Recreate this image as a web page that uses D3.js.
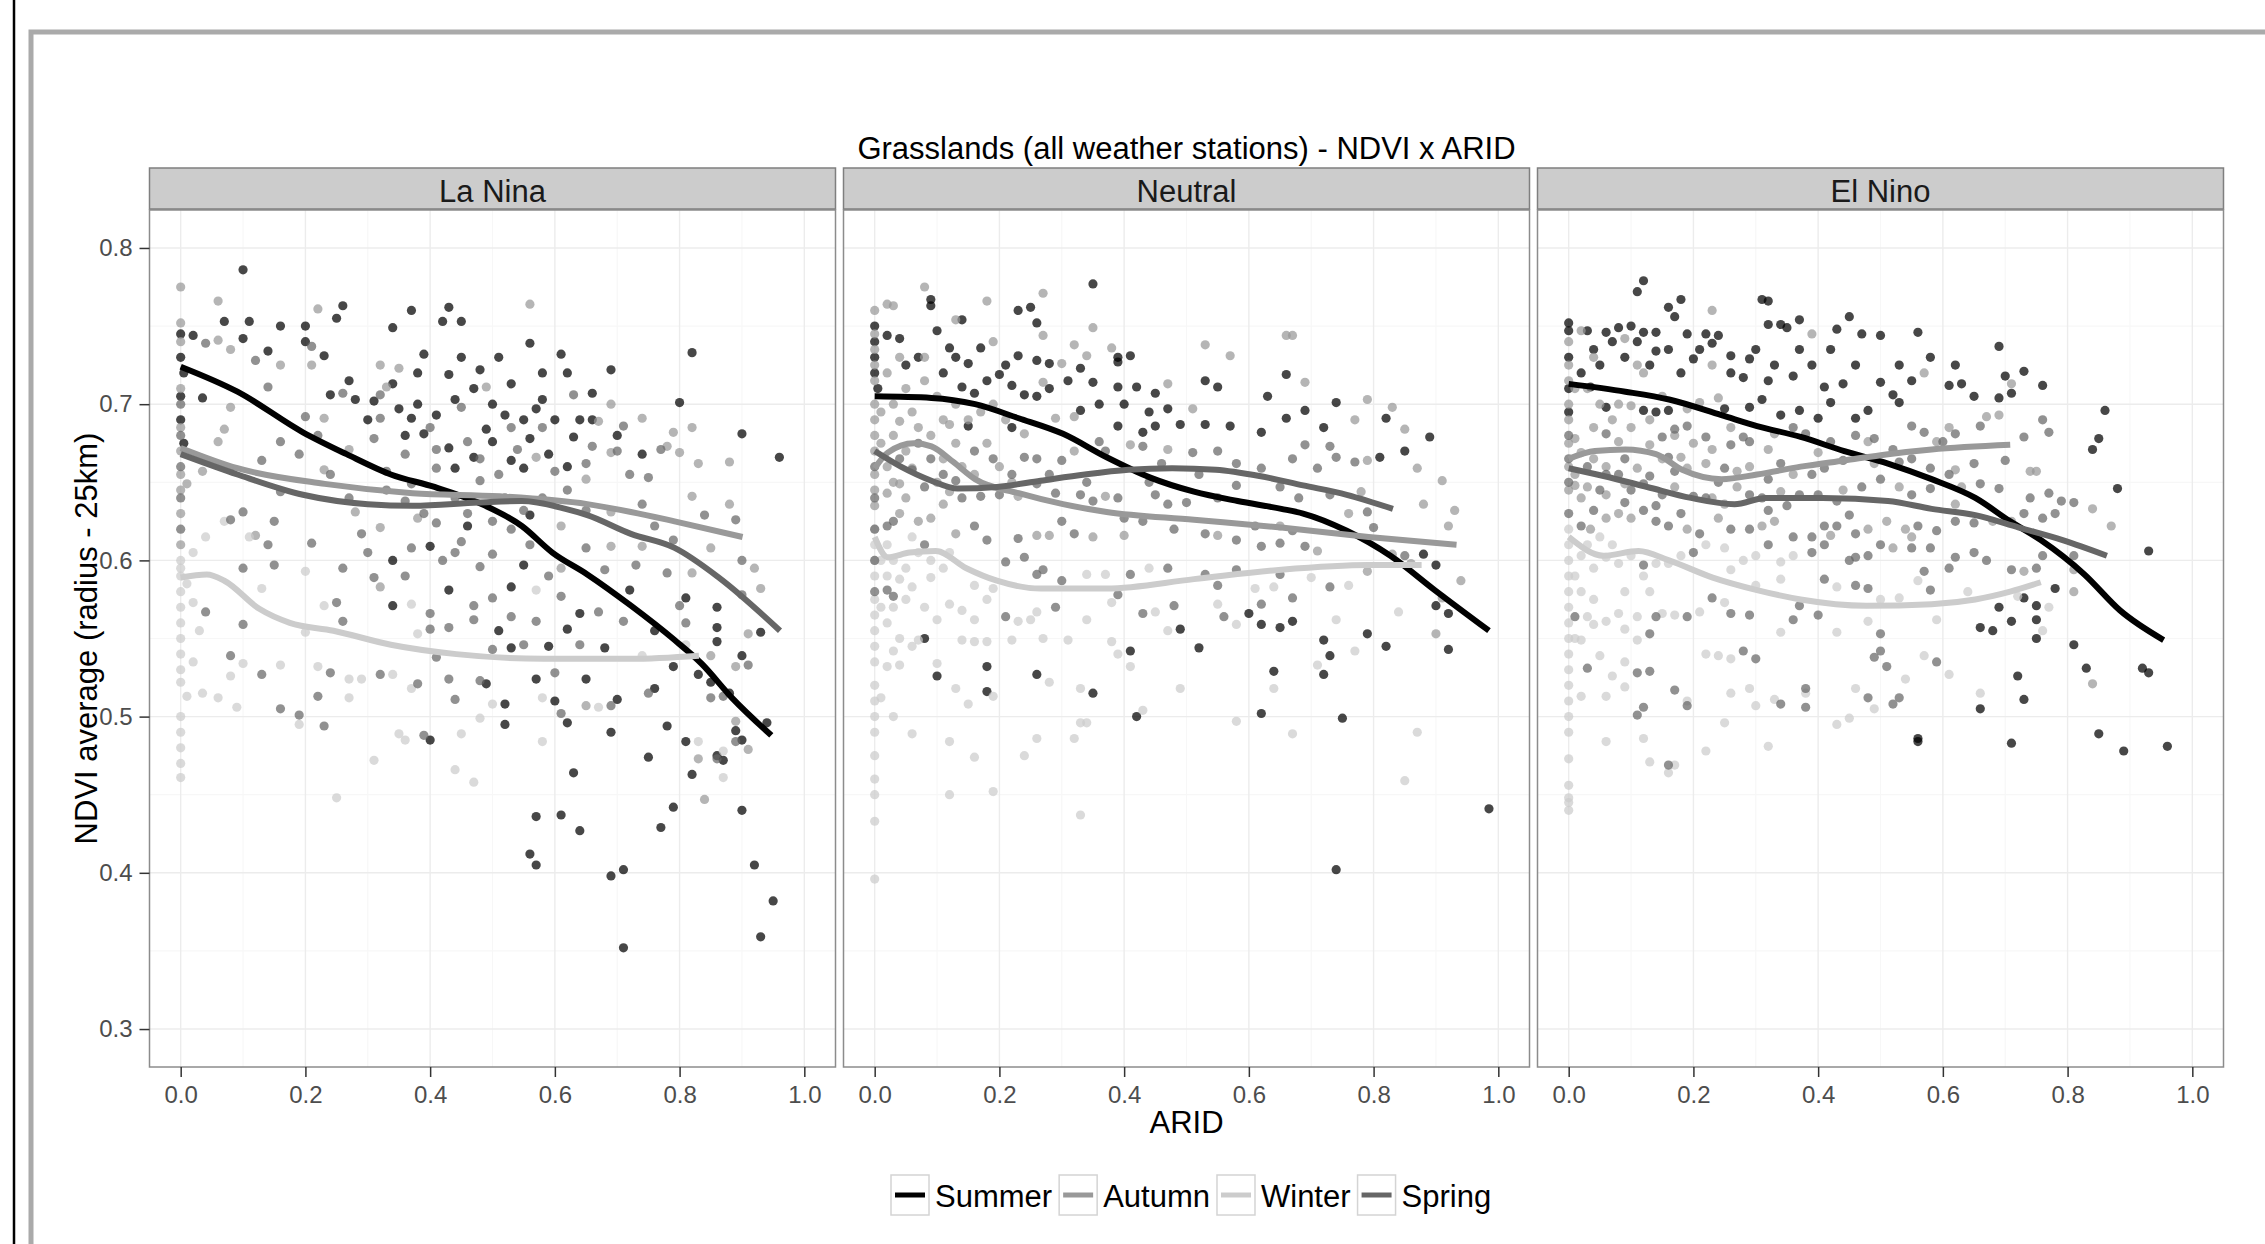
<!DOCTYPE html>
<html>
<head>
<meta charset="utf-8">
<script src="https://cdn.jsdelivr.net/npm/d3@7"></script>
<style>
body { margin: 0; background: #fff; }
svg text { font-family: "Liberation Sans", Arial, sans-serif; }
</style>
</head>
<body>
<svg></svg>
<script>
var w = 2265, h = 1244

var seasons = ["Summer", "Autumn", "Winter", "Spring"]
var seasonColors = ["#000000", "#999999", "#cccccc", "#666666"]
var phases = ["La Nina", "Neutral", "El Nino"]
var xTicks = [0, 0.2, 0.4, 0.6, 0.8, 1.0]
var yTicks = [0.3, 0.4, 0.5, 0.6, 0.7, 0.8]
var xMinor = [0.1, 0.3, 0.5, 0.7, 0.9]
var yMinor = [0.35, 0.45, 0.55, 0.65, 0.75]

// ---- points, [ARID, NDVI] ----
var laNinaSummer = [[0.10,0.786],[0.26,0.763],[0.37,0.760],[0.43,0.762],[0.07,0.753],[0.11,0.753],[0.16,0.750],[0.20,0.750],[0.25,0.755],[0.34,0.749],[0.42,0.753],[0.45,0.753],[0.02,0.744],[0.10,0.742],[0.20,0.740],[0.56,0.739],[0.61,0.732],[0.82,0.733],[0.14,0.734],[0.23,0.731],[0.39,0.732],[0.45,0.730],[0.035,0.704],[0.27,0.715],[0.43,0.719],[0.69,0.722],[0.53,0.713],[0.24,0.706],[0.35,0.697],[0.57,0.697],[0.66,0.707],[0.80,0.701],[0.37,0.691],[0.49,0.684],[0.90,0.681],[0.39,0.681],[0.63,0.679],[0.96,0.666],[0.44,0.659],[0.55,0.659],[0.56,0.629],[0.46,0.622],[0.55,0.597],[0.40,0.609],[0.34,0.600],[0.81,0.576],[0.86,0.570],[0.72,0.581],[0.64,0.566],[0.53,0.583],[0.43,0.581],[0.34,0.571],[0.86,0.557],[0.93,0.554],[0.76,0.555],[0.62,0.556],[0.51,0.555],[0.86,0.548],[0.90,0.539],[0.68,0.544],[0.59,0.545],[0.53,0.544],[0.79,0.532],[0.83,0.527],[0.65,0.524],[0.57,0.524],[0.49,0.521],[0.85,0.522],[0.88,0.515],[0.76,0.518],[0.70,0.511],[0.60,0.510],[0.52,0.508],[0.94,0.496],[0.89,0.491],[0.90,0.485],[0.86,0.475],[0.87,0.472],[0.81,0.484],[0.78,0.494],[0.69,0.490],[0.62,0.496],[0.52,0.495],[0.40,0.485],[0.75,0.474],[0.82,0.463],[0.63,0.464],[0.79,0.442],[0.90,0.440],[0.61,0.437],[0.57,0.436],[0.64,0.427],[0.77,0.429],[0.56,0.412],[0.57,0.405],[0.71,0.402],[0.69,0.398],[0.92,0.405],[0.95,0.382],[0.93,0.359],[0.71,0.352],[0,0.745],[0,0.73],[0.005,0.72],[0,0.705],[0,0.69],[0.005,0.675],
    [0.31,0.702],[0.34,0.713],[0.38,0.700],[0.41,0.693],[0.44,0.703],[0.47,0.710],[0.50,0.700],[0.52,0.693],[0.55,0.690],[0.58,0.703],[0.60,0.690],[0.36,0.680],[0.43,0.672],[0.47,0.666],[0.50,0.676],[0.53,0.664],[0.56,0.678],[0.59,0.668],[0.62,0.660],[0.64,0.690],[0.30,0.690],[0.28,0.703],[0.38,0.720],[0.48,0.722],[0.51,0.730],[0.58,0.720],[0.62,0.720],[0.66,0.690],[0.70,0.680],[0.74,0.668]]
var laNinaAutumn = [[0.0,0.775],[0.06,0.766],[0.22,0.761],[0.56,0.764],[0.06,0.741],[0.08,0.735],[0.16,0.725],[0.21,0.725],[0.32,0.725],[0.35,0.723],[0.49,0.711],[0.33,0.711],[0.08,0.698],[0.69,0.700],[0.82,0.685],[0.74,0.691],[0.23,0.691],[0.67,0.689],[0.79,0.682],[0.27,0.671],[0.57,0.666],[0.69,0.669],[0.78,0.673],[0.80,0.669],[0.88,0.663],[0.83,0.662],[0.06,0.676],[0.07,0.684],[0.01,0.649],[0.035,0.657],[0.23,0.658],[0.65,0.652],[0.82,0.641],[0.88,0.636],[0.69,0.631],[0.61,0.622],[0.38,0.627],[0.32,0.621],[0.28,0.631],[0.12,0.616],[0.69,0.609],[0.74,0.609],[0.85,0.608],[0.92,0.595],[0.82,0.592],[0.61,0.595],[0.93,0.582],[0.32,0.583],[0.91,0.553],[0.85,0.539],[0.89,0.532],[0.65,0.507],[0.89,0.497],[0.91,0.479],[0.83,0.473],[0.84,0.447],[0,0.752],[0,0.74],[0,0.71],[0,0.685],[0,0.67],[0,0.655],[0,0.645],[0,0.63],[0,0.61]]
var laNinaWinter = [[0.07,0.625],[0.04,0.615],[0.11,0.615],[0.20,0.593],[0.02,0.605],[0.57,0.581],[0.37,0.572],[0.23,0.571],[0.13,0.582],[0.02,0.573],[0.38,0.553],[0.20,0.554],[0.03,0.555],[0.81,0.546],[0.74,0.539],[0.10,0.534],[0.02,0.535],[0.34,0.527],[0.29,0.524],[0.27,0.524],[0.22,0.532],[0.16,0.533],[0.08,0.526],[0.0,0.522],[0.67,0.506],[0.58,0.512],[0.50,0.508],[0.37,0.518],[0.27,0.512],[0.09,0.506],[0.06,0.512],[0.035,0.515],[0.01,0.513],[0.87,0.478],[0.83,0.484],[0.58,0.484],[0.48,0.499],[0.45,0.489],[0.36,0.485],[0.35,0.489],[0.19,0.495],[0.0,0.500],[0.87,0.461],[0.44,0.466],[0.47,0.458],[0.31,0.472],[0.0,0.461],[0.25,0.448],[0,0.60],[0,0.59],[0,0.58],[0,0.57],[0,0.56],[0,0.55],[0,0.54],[0,0.53],[0,0.49],[0,0.48],[0,0.47],[0,0.595],[0.01,0.585]]
var laNinaSpring = [[0.20,0.692],[0.16,0.676],[0.46,0.676],[0.33,0.657],[0.65,0.662],[0.75,0.653],[0.89,0.626],[0.76,0.622],[0.29,0.617],[0.21,0.611],[0.79,0.613],[0.90,0.600],[0.78,0.592],[0.68,0.594],[0.26,0.595],[0.25,0.573],[0.40,0.556],[0.26,0.561],[0.41,0.538],[0.43,0.524],[0.32,0.527],[0.24,0.528],[0.44,0.511],[0.22,0.513],[0.16,0.505],[0.23,0.494],[0.71,0.686],[0.04,0.739],[0.21,0.737],[0.12,0.728],[0.14,0.711],[0.26,0.707],[0.32,0.706],[0.45,0.698],[0.63,0.706],[0.32,0.691],[0.40,0.685],[0.53,0.685],[0.58,0.685],[0.31,0.678],[0.36,0.668],[0.41,0.671],[0.48,0.665],[0.54,0.671],[0.66,0.673],[0.70,0.670],[0.77,0.671],[0.13,0.664],[0.16,0.644],[0.37,0.649],[0.41,0.659],[0.48,0.651],[0.51,0.655],[0.60,0.657],[0.72,0.655],[0.84,0.629],[0.74,0.636],[0.65,0.632],[0.53,0.620],[0.50,0.625],[0.41,0.624],[0.15,0.625],[0.10,0.631],[0.08,0.626],[0.14,0.610],[0.65,0.608],[0.73,0.597],[0.48,0.596],[0.44,0.605],[0.37,0.608],[0.31,0.589],[0.15,0.597],[0.10,0.595],[0.80,0.571],[0.90,0.578],[0.67,0.567],[0.61,0.577],[0.50,0.576],[0.47,0.571],[0.40,0.566],[0.04,0.567],[0.81,0.560],[0.71,0.561],[0.57,0.561],[0.53,0.564],[0.47,0.562],[0.43,0.557],[0.10,0.559],[0.91,0.533],[0.64,0.546],[0.55,0.546],[0.50,0.543],[0.08,0.539],[0.60,0.528],[0.48,0.523],[0.38,0.521],[0.13,0.527],[0.85,0.512],[0.87,0.513],[0.75,0.515],[0.69,0.507],[0.19,0.501],[0.89,0.484],[0.86,0.473],[0.61,0.502],[0.39,0.488],[0,0.70],[0,0.68],[0,0.66],[0,0.64],[0,0.62],
    [0.33,0.645],[0.36,0.638],[0.39,0.630],[0.44,0.640],[0.46,0.630],[0.52,0.640],[0.55,0.632],[0.58,0.640],[0.62,0.645],[0.45,0.612],[0.50,0.604],[0.56,0.610],[0.59,0.590],[0.42,0.600],[0.36,0.590],[0.30,0.605],[0.27,0.640],[0.24,0.655],[0.19,0.668],[0.22,0.680]]

var neutralSummer = [[0.35,0.777],[0.09,0.767],[0.09,0.763],[0.23,0.760],[0.25,0.762],[0.26,0.752],[0.14,0.754],[0.10,0.747],[0.02,0.744],[0.04,0.742],[0,0.740],[0.17,0.736],[0.12,0.736],[0.39,0.730],[0.41,0.731],[0.39,0.727],[0.23,0.731],[0.21,0.725],[0.26,0.728],[0.28,0.726],[0.15,0.726],[0.33,0.723],[0.66,0.719],[0.53,0.715],[0.55,0.711],[0.39,0.711],[0.42,0.711],[0.20,0.719],[0.22,0.712],[0.24,0.706],[0.26,0.705],[0.35,0.714],[0.14,0.711],[0.16,0.707],[0.45,0.707],[0.63,0.705],[0.74,0.701],[0.82,0.691],[0.69,0.696],[0.72,0.685],[0.66,0.691],[0.62,0.682],[0.57,0.686],[0.53,0.687],[0.49,0.687],[0.47,0.697],[0.45,0.686],[0.43,0.682],[0.39,0.686],[0.33,0.696],[0.22,0.685],[0.15,0.686],[0.89,0.679],[0.85,0.670],[0.81,0.666],[0.88,0.604],[0.90,0.597],[0.90,0.571],[0.92,0.566],[0.79,0.553],[0.82,0.545],[0.92,0.543],[0.72,0.549],[0.73,0.539],[0.64,0.529],[0.72,0.527],[0.62,0.502],[0.75,0.499],[0.985,0.441],[0.74,0.402],[0.67,0.561],[0.65,0.557],[0.62,0.559],[0.60,0.566],[0.52,0.544],[0.49,0.556],[0.41,0.542],[0.35,0.515],[0.26,0.527],[0.18,0.532],[0.10,0.526],[0.18,0.516],[0.42,0.500],[0.08,0.550],[0,0.75],[0,0.73],[0,0.72],[0.005,0.71],
    [0.05,0.725],[0.07,0.730],[0.11,0.720],[0.13,0.730],[0.18,0.715],[0.28,0.710],[0.31,0.715],[0.36,0.700],[0.40,0.700],[0.44,0.695]]
var neutralAutumn = [[0.08,0.775],[0.27,0.771],[0.02,0.764],[0.03,0.763],[0.18,0.766],[0.13,0.754],[0.35,0.749],[0.66,0.744],[0.67,0.744],[0.27,0.744],[0.19,0.740],[0.32,0.738],[0.53,0.738],[0.38,0.736],[0.57,0.731],[0.34,0.731],[0.30,0.726],[0.08,0.730],[0.04,0.730],[0.69,0.714],[0.27,0.714],[0.47,0.713],[0.79,0.703],[0.83,0.698],[0.77,0.690],[0.51,0.697],[0.32,0.692],[0.29,0.691],[0.24,0.681],[0.12,0.687],[0.07,0.685],[0.04,0.689],[0.85,0.684],[0.79,0.664],[0.47,0.671],[0.41,0.674],[0.32,0.670],[0.13,0.675],[0.06,0.659],[0.87,0.659],[0.91,0.651],[0.88,0.636],[0.93,0.632],[0.92,0.622],[0.78,0.644],[0.76,0.630],[0.37,0.641],[0.23,0.641],[0.12,0.644],[0.04,0.649],[0.02,0.643],[0.04,0.630],[0.07,0.625],[0.09,0.627],[0.11,0.636],[0.13,0.617],[0.26,0.616],[0.28,0.616],[0.35,0.615],[0.40,0.616],[0.55,0.616],[0.71,0.606],[0.65,0.622],[0.83,0.604],[0.94,0.587],[0.86,0.598],[0.79,0.593],[0.91,0.576],[0.90,0.553],[0,0.76],[0,0.745],[0,0.735],[0,0.725],[0,0.715],[0,0.70],[0,0.69],[0,0.68],[0,0.67],[0,0.655],[0,0.645],[0,0.635],[0.01,0.695],[0.01,0.675],
    [0.02,0.720],[0.03,0.700],[0.05,0.710],[0.06,0.695],[0.08,0.715],[0.10,0.705],[0.11,0.690],[0.13,0.700],[0.15,0.690],[0.17,0.695],[0.19,0.700],[0.21,0.690],[0.03,0.680],[0.05,0.670],[0.09,0.680],[0.11,0.665],[0.14,0.660],[0.18,0.675],[0.02,0.660],[0.03,0.650],[0.05,0.640],[0.10,0.650],[0.16,0.655],[0.20,0.660],[0.22,0.650]]
var neutralWinter = [[0.76,0.584],[0.70,0.589],[0.64,0.583],[0.61,0.582],[0.44,0.595],[0.37,0.591],[0.34,0.591],[0.19,0.582],[0.16,0.584],[0.12,0.605],[0.06,0.615],[0.04,0.588],[0.06,0.583],[0.09,0.589],[0.84,0.567],[0.74,0.562],[0.58,0.559],[0.55,0.572],[0.47,0.555],[0.45,0.567],[0.38,0.573],[0.34,0.562],[0.26,0.567],[0.25,0.562],[0.23,0.561],[0.18,0.575],[0.16,0.562],[0.14,0.568],[0.12,0.572],[0.10,0.562],[0.71,0.533],[0.77,0.542],[0.39,0.540],[0.38,0.548],[0.31,0.549],[0.27,0.550],[0.22,0.549],[0.18,0.548],[0.16,0.548],[0.14,0.549],[0.07,0.549],[0.03,0.542],[0.02,0.532],[0.04,0.533],[0.10,0.534],[0.64,0.518],[0.49,0.518],[0.41,0.532],[0.33,0.518],[0.28,0.522],[0.13,0.518],[0.19,0.513],[0.15,0.508],[0.01,0.512],[0.03,0.500],[0.06,0.489],[0.87,0.490],[0.67,0.489],[0.58,0.497],[0.43,0.504],[0.34,0.496],[0.33,0.496],[0.32,0.486],[0.26,0.486],[0.24,0.475],[0.16,0.474],[0.19,0.452],[0.12,0.450],[0.12,0.484],[0.85,0.459],[0.33,0.437],[0,0.433],[0,0.396],[0,0.62],[0,0.61],[0,0.60],[0,0.59],[0,0.575],[0,0.565],[0,0.555],[0,0.545],[0,0.535],[0,0.52],[0,0.51],[0,0.50],[0,0.49],[0,0.475],[0,0.46],[0,0.45],[0.01,0.60],[0.01,0.57],
    [0.02,0.610],[0.03,0.600],[0.05,0.595],[0.07,0.605],[0.09,0.600],[0.11,0.595],[0.02,0.590],[0.03,0.570],[0.05,0.575],[0.08,0.570],[0.02,0.560],[0.04,0.550],[0.06,0.545]]
var neutralSpring = [[0.30,0.664],[0.77,0.663],[0.74,0.666],[0.73,0.673],[0.71,0.659],[0.69,0.674],[0.67,0.665],[0.62,0.659],[0.58,0.662],[0.55,0.670],[0.51,0.669],[0.46,0.662],[0.43,0.673],[0.37,0.670],[0.36,0.676],[0.26,0.665],[0.24,0.666],[0.19,0.665],[0.16,0.670],[0.09,0.665],[0.79,0.631],[0.80,0.621],[0.73,0.642],[0.68,0.640],[0.65,0.647],[0.58,0.648],[0.55,0.640],[0.50,0.637],[0.47,0.636],[0.45,0.642],[0.40,0.627],[0.35,0.638],[0.33,0.642],[0.29,0.643],[0.26,0.649],[0.20,0.642],[0.17,0.641],[0.13,0.651],[0.08,0.647],[0.06,0.658],[0.02,0.622],[0.03,0.625],[0.16,0.622],[0.18,0.613],[0.23,0.614],[0.30,0.625],[0.32,0.617],[0.43,0.625],[0.48,0.620],[0.53,0.617],[0.58,0.613],[0.61,0.622],[0.62,0.609],[0.65,0.611],[0.67,0.619],[0.69,0.609],[0.85,0.603],[0.73,0.583],[0.65,0.591],[0.58,0.594],[0.55,0.584],[0.53,0.591],[0.47,0.595],[0.41,0.591],[0.30,0.587],[0.27,0.594],[0.26,0.591],[0.24,0.602],[0.21,0.599],[0.08,0.610],[0.02,0.581],[0.03,0.577],[0.67,0.576],[0.62,0.572],[0.56,0.564],[0.48,0.571],[0.43,0.566],[0.39,0.578],[0.29,0.570],[0.21,0.564],[0,0.66],[0,0.64],[0,0.62],[0,0.60],[0,0.58],
    [0.04,0.665],[0.07,0.675],[0.11,0.655],[0.14,0.640],[0.22,0.655],[0.28,0.655],[0.34,0.650],[0.39,0.640],[0.44,0.650],[0.52,0.655]]

var elNinoSummer = [[0.12,0.779],[0.11,0.772],[0.16,0.762],[0.17,0.756],[0.18,0.767],[0.31,0.767],[0.32,0.766],[0.45,0.756],[0.0,0.752],[0.0,0.747],[0.03,0.747],[0.06,0.746],[0.08,0.749],[0.10,0.750],[0.12,0.746],[0.14,0.746],[0.07,0.740],[0.11,0.740],[0.22,0.745],[0.19,0.745],[0.24,0.744],[0.23,0.739],[0.32,0.751],[0.34,0.751],[0.35,0.749],[0.37,0.754],[0.43,0.748],[0.47,0.745],[0.50,0.744],[0.56,0.746],[0.69,0.737],[0.37,0.735],[0.73,0.721],[0.70,0.718],[0.76,0.712],[0.71,0.707],[0.61,0.712],[0.63,0.713],[0.65,0.705],[0.69,0.704],[0.55,0.715],[0.50,0.714],[0.52,0.706],[0.53,0.701],[0.48,0.696],[0.46,0.691],[0.44,0.713],[0.41,0.711],[0.36,0.718],[0.32,0.715],[0.31,0.703],[0.28,0.717],[0.26,0.731],[0.29,0.729],[0.20,0.729],[0.18,0.720],[0.14,0.734],[0.02,0.720],[0.0,0.730],[0.035,0.711],[0.06,0.698],[0.12,0.696],[0.14,0.695],[0.16,0.696],[0.25,0.697],[0.29,0.698],[0.34,0.693],[0.37,0.696],[0.40,0.691],[0.42,0.701],[0.86,0.696],[0.85,0.678],[0.84,0.671],[0.88,0.646],[0.93,0.606],[0.92,0.531],[0.93,0.528],[0.83,0.531],[0.85,0.489],[0.89,0.478],[0.96,0.481],[0.81,0.546],[0.78,0.582],[0.73,0.576],[0.75,0.571],[0.69,0.570],[0.66,0.557],[0.68,0.555],[0.71,0.561],[0.75,0.562],[0.75,0.550],[0.72,0.526],[0.73,0.511],[0.71,0.483],[0.66,0.505],[0.56,0.486],[0.56,0.484],[0,0.71],[0,0.695],
    [0.04,0.735],[0.05,0.725],[0.09,0.730],[0.13,0.725],[0.16,0.735],[0.21,0.735],[0.26,0.720],[0.30,0.735],[0.33,0.725],[0.39,0.725],[0.42,0.735],[0.46,0.725],[0.53,0.725],[0.58,0.730],[0.62,0.725]]
var elNinoAutumn = [[0.23,0.760],[0.02,0.747],[0.09,0.742],[0.39,0.745],[0.57,0.720],[0.71,0.713],[0.69,0.693],[0.67,0.692],[0.11,0.725],[0.12,0.720],[0.04,0.730],[0.23,0.725],[0.24,0.704],[0.08,0.700],[0.10,0.699],[0.19,0.697],[0.21,0.701],[0.33,0.681],[0.23,0.671],[0.13,0.674],[0.08,0.676],[0.04,0.685],[0.01,0.678],[0.02,0.669],[0.18,0.666],[0.32,0.671],[0.40,0.669],[0.48,0.676],[0.59,0.676],[0.61,0.685],[0.74,0.657],[0.75,0.657],[0.62,0.658],[0.49,0.662],[0.27,0.657],[0.22,0.662],[0.19,0.659],[0.11,0.659],[0.09,0.649],[0.03,0.647],[0.01,0.648],[0.63,0.647],[0.62,0.636],[0.53,0.647],[0.34,0.644],[0.27,0.647],[0.25,0.636],[0.23,0.640],[0.17,0.647],[0.06,0.642],[0.02,0.640],[0.84,0.633],[0.87,0.622],[0.71,0.625],[0.68,0.625],[0.54,0.620],[0.51,0.625],[0.48,0.620],[0.33,0.625],[0.31,0.622],[0.24,0.627],[0.19,0.620],[0.10,0.627],[0.08,0.630],[0.06,0.627],[0.035,0.620],[0.55,0.615],[0.52,0.608],[0.42,0.616],[0.81,0.594],[0.73,0.593],[0.81,0.580],[0.84,0.521],[0,0.74],[0,0.725],[0,0.715],[0,0.70],[0,0.69],[0,0.675],[0,0.66],[0,0.645],[0.01,0.71],[0.01,0.655],
    [0.03,0.710],[0.05,0.700],[0.07,0.690],[0.10,0.685],[0.13,0.690],[0.15,0.705],[0.17,0.680],[0.20,0.675],[0.26,0.685],[0.29,0.660],[0.36,0.655],[0.44,0.645],[0.04,0.665],[0.06,0.660],[0.15,0.665]]
var elNinoWinter = [[0.36,0.603],[0.34,0.599],[0.30,0.603],[0.28,0.600],[0.26,0.594],[0.25,0.608],[0.22,0.610],[0.18,0.603],[0.16,0.598],[0.14,0.598],[0.10,0.603],[0.08,0.598],[0.06,0.602],[0.04,0.595],[0.02,0.603],[0.72,0.577],[0.77,0.570],[0.64,0.580],[0.56,0.587],[0.53,0.576],[0.50,0.575],[0.43,0.583],[0.34,0.588],[0.30,0.584],[0.25,0.573],[0.21,0.567],[0.17,0.565],[0.15,0.566],[0.11,0.564],[0.09,0.556],[0.08,0.566],[0.06,0.561],[0.04,0.559],[0.03,0.564],[0.76,0.555],[0.59,0.562],[0.48,0.561],[0.43,0.554],[0.34,0.554],[0.26,0.537],[0.24,0.539],[0.22,0.540],[0.11,0.549],[0.09,0.535],[0.05,0.539],[0.02,0.549],[0.61,0.527],[0.57,0.539],[0.54,0.524],[0.46,0.518],[0.66,0.515],[0.38,0.515],[0.33,0.511],[0.30,0.507],[0.29,0.518],[0.26,0.515],[0.19,0.510],[0.09,0.519],[0.07,0.526],[0.06,0.513],[0.02,0.513],[0.43,0.495],[0.45,0.499],[0.49,0.505],[0.25,0.496],[0.32,0.481],[0.22,0.478],[0.12,0.486],[0.06,0.484],[0.13,0.471],[0.16,0.464],[0.17,0.469],[0,0.473],[0,0.456],[0,0.448],[0,0.445],[0,0.440],[0,0.62],[0,0.61],[0,0.60],[0,0.59],[0,0.58],[0,0.57],[0,0.56],[0,0.55],[0,0.54],[0,0.53],[0,0.52],[0,0.51],[0,0.50],[0,0.49],[0.01,0.59],[0.01,0.55],
    [0.03,0.610],[0.05,0.615],[0.07,0.610],[0.09,0.580],[0.12,0.590],[0.13,0.580],[0.02,0.580],[0.04,0.575]]
var elNinoSpring = [[0.36,0.685],[0.38,0.681],[0.28,0.679],[0.26,0.674],[0.22,0.679],[0.19,0.686],[0.17,0.684],[0.15,0.679],[0.06,0.681],[0.09,0.665],[0.16,0.666],[0.29,0.676],[0.42,0.676],[0.46,0.680],[0.49,0.678],[0.52,0.671],[0.55,0.686],[0.57,0.682],[0.60,0.676],[0.62,0.681],[0.66,0.686],[0.70,0.664],[0.73,0.679],[0.76,0.690],[0.77,0.682],[0.65,0.662],[0.61,0.655],[0.58,0.659],[0.55,0.665],[0.53,0.663],[0.44,0.664],[0.41,0.659],[0.39,0.655],[0.34,0.662],[0.32,0.652],[0.25,0.659],[0.17,0.657],[0.13,0.654],[0.06,0.655],[0.81,0.637],[0.79,0.638],[0.77,0.643],[0.74,0.640],[0.69,0.646],[0.66,0.649],[0.58,0.646],[0.55,0.642],[0.50,0.652],[0.47,0.647],[0.45,0.629],[0.43,0.638],[0.40,0.642],[0.37,0.642],[0.32,0.632],[0.29,0.642],[0.20,0.641],[0.15,0.642],[0.12,0.649],[0.09,0.637],[0.04,0.632],[0.78,0.630],[0.76,0.627],[0.73,0.630],[0.65,0.624],[0.62,0.625],[0.59,0.619],[0.56,0.622],[0.46,0.617],[0.43,0.622],[0.41,0.622],[0.39,0.615],[0.36,0.615],[0.29,0.620],[0.26,0.620],[0.21,0.617],[0.16,0.622],[0.14,0.625],[0.12,0.632],[0.02,0.622],[0.81,0.603],[0.75,0.595],[0.76,0.603],[0.71,0.594],[0.65,0.605],[0.67,0.600],[0.62,0.602],[0.61,0.595],[0.58,0.608],[0.57,0.593],[0.55,0.608],[0.50,0.610],[0.48,0.603],[0.46,0.602],[0.45,0.600],[0.41,0.610],[0.39,0.605],[0.32,0.610],[0.20,0.605],[0.12,0.597],[0.58,0.581],[0.48,0.582],[0.46,0.584],[0.41,0.588],[0.40,0.565],[0.37,0.571],[0.36,0.562],[0.29,0.565],[0.26,0.566],[0.23,0.576],[0.19,0.564],[0.14,0.564],[0.01,0.564],[0.50,0.553],[0.50,0.542],[0.49,0.538],[0.30,0.537],[0.28,0.542],[0.13,0.553],[0.03,0.531],[0.59,0.535],[0.51,0.532],[0.48,0.512],[0.53,0.512],[0.52,0.508],[0.38,0.518],[0.38,0.506],[0.34,0.508],[0.17,0.517],[0.19,0.507],[0.13,0.529],[0.11,0.528],[0.12,0.506],[0.11,0.501],[0.16,0.469],[0,0.68],[0,0.665],[0,0.65],[0,0.63],
    [0.03,0.660],[0.05,0.645],[0.08,0.655],[0.10,0.645],[0.14,0.635],[0.18,0.630],[0.22,0.640],[0.24,0.650],[0.31,0.640],[0.35,0.635]]

// ---- smoothed fits ----
var laNinaSummerFit = [[0,0.724],[0.091,0.708],[0.196,0.682],[0.266,0.668],[0.337,0.655],[0.407,0.647],[0.477,0.637],[0.547,0.622],[0.596,0.605],[0.652,0.591],[0.722,0.571],[0.792,0.549],[0.835,0.534],[0.884,0.512],[0.947,0.488]]
var laNinaAutumnFit = [[0,0.672],[0.091,0.659],[0.231,0.649],[0.372,0.643],[0.512,0.641],[0.652,0.636],[0.722,0.631],[0.792,0.625],[0.901,0.615]]
var laNinaWinterFit = [[0,0.589],[0.042,0.591],[0.07,0.587],[0.126,0.569],[0.175,0.560],[0.245,0.555],[0.337,0.546],[0.442,0.540],[0.582,0.537],[0.722,0.537],[0.831,0.539]]
var laNinaSpringFit = [[0,0.668],[0.091,0.655],[0.196,0.642],[0.30,0.636],[0.372,0.635],[0.477,0.637],[0.547,0.638],[0.617,0.633],[0.652,0.629],[0.722,0.617],[0.792,0.608],[0.863,0.589],[0.961,0.555]]

var neutralSummerFit = [[0,0.705],[0.091,0.704],[0.161,0.700],[0.231,0.691],[0.302,0.681],[0.372,0.666],[0.442,0.653],[0.512,0.644],[0.582,0.638],[0.652,0.633],[0.687,0.630],[0.757,0.619],[0.827,0.603],[0.898,0.581],[0.985,0.555]]
var neutralAutumnFit = [[0,0.659],[0.021,0.669],[0.063,0.675],[0.091,0.673],[0.126,0.663],[0.161,0.652],[0.231,0.643],[0.302,0.636],[0.372,0.631],[0.512,0.626],[0.652,0.621],[0.792,0.615],[0.933,0.610]]
var neutralWinterFit = [[0,0.615],[0.021,0.602],[0.056,0.605],[0.098,0.606],[0.147,0.595],[0.196,0.587],[0.266,0.582],[0.372,0.582],[0.512,0.588],[0.652,0.594],[0.792,0.597],[0.877,0.597]]
var neutralSpringFit = [[0,0.670],[0.042,0.660],[0.091,0.651],[0.133,0.646],[0.196,0.647],[0.266,0.651],[0.337,0.655],[0.407,0.658],[0.477,0.659],[0.547,0.658],[0.617,0.654],[0.687,0.648],[0.757,0.642],[0.831,0.633]]

var elNinoSummerFit = [[0,0.713],[0.091,0.708],[0.161,0.703],[0.245,0.693],[0.302,0.686],[0.372,0.679],[0.442,0.670],[0.512,0.662],[0.582,0.652],[0.652,0.640],[0.708,0.625],[0.757,0.613],[0.827,0.591],[0.884,0.568],[0.954,0.549]]
var elNinoAutumnFit = [[0,0.665],[0.042,0.670],[0.091,0.671],[0.140,0.668],[0.182,0.658],[0.245,0.652],[0.302,0.655],[0.372,0.660],[0.442,0.664],[0.512,0.668],[0.582,0.671],[0.708,0.674]]
var elNinoWinterFit = [[0,0.615],[0.056,0.603],[0.112,0.606],[0.161,0.600],[0.231,0.589],[0.302,0.581],[0.372,0.575],[0.477,0.571],[0.582,0.572],[0.652,0.575],[0.708,0.580],[0.757,0.586]]
var elNinoSpringFit = [[0,0.659],[0.056,0.654],[0.126,0.647],[0.196,0.640],[0.266,0.636],[0.316,0.640],[0.407,0.640],[0.512,0.638],[0.582,0.633],[0.652,0.629],[0.722,0.621],[0.792,0.613],[0.863,0.603]]

var panels = [
    { name: phases[0], points: [laNinaSummer, laNinaAutumn, laNinaWinter, laNinaSpring],
      fits: [laNinaSummerFit, laNinaAutumnFit, laNinaWinterFit, laNinaSpringFit] },
    { name: phases[1], points: [neutralSummer, neutralAutumn, neutralWinter, neutralSpring],
      fits: [neutralSummerFit, neutralAutumnFit, neutralWinterFit, neutralSpringFit] },
    { name: phases[2], points: [elNinoSummer, elNinoAutumn, elNinoWinter, elNinoSpring],
      fits: [elNinoSummerFit, elNinoAutumnFit, elNinoWinterFit, elNinoSpringFit] }
]

// ---- layout ----
var panelLeft = 149.5, panelW = 686, panelGap = 8
var panelTop = 210, panelH = 857
var stripTop = 168, stripH = 41

var svg = d3.select("svg")
    .attr("width", w)
    .attr("height", h)

svg.append("rect")
    .attr("width", w)
    .attr("height", h)
    .attr("fill", "#fff")

// page frame
svg.append("line")
    .attr("x1", 14).attr("x2", 14)
    .attr("y1", 0).attr("y2", h)
    .attr("stroke", "#000")
    .attr("stroke-width", 2.5)
svg.append("path")
    .attr("d", "M31," + h + "V32H" + w)
    .attr("fill", "none")
    .attr("stroke", "#aaaaaa")
    .attr("stroke-width", 5)

var x = d3.scaleLinear().domain([-0.05, 1.05]).range([0, panelW])
var y = d3.scaleLinear().domain([0.2757, 0.8243]).range([panelH, 0])

var line = d3.line()
    .x(function(d) { return x(d[0]) })
    .y(function(d) { return y(d[1]) })
    .curve(d3.curveMonotoneX)

panels.forEach(function(p, i) {
    var px = panelLeft + i * (panelW + panelGap)
    var g = svg.append("g")
        .attr("transform", "translate(" + px + "," + panelTop + ")")

    // grid
    g.selectAll(".xminor").data(xMinor).enter().append("line")
        .attr("x1", x).attr("x2", x)
        .attr("y1", 0).attr("y2", panelH)
        .attr("stroke", "#f7f7f7").attr("stroke-width", 1.2)
    g.selectAll(".yminor").data(yMinor).enter().append("line")
        .attr("x1", 0).attr("x2", panelW)
        .attr("y1", y).attr("y2", y)
        .attr("stroke", "#f7f7f7").attr("stroke-width", 1.2)
    g.selectAll(".xmajor").data(xTicks).enter().append("line")
        .attr("x1", x).attr("x2", x)
        .attr("y1", 0).attr("y2", panelH)
        .attr("stroke", "#ececec").attr("stroke-width", 1.4)
    g.selectAll(".ymajor").data(yTicks).enter().append("line")
        .attr("x1", 0).attr("x2", panelW)
        .attr("y1", y).attr("y2", y)
        .attr("stroke", "#ececec").attr("stroke-width", 1.4)

    // points
    p.points.forEach(function(pts, s) {
        g.append("g").selectAll("circle").data(pts).enter().append("circle")
            .attr("cx", function(d) { return x(d[0]) })
            .attr("cy", function(d) { return y(d[1]) })
            .attr("r", 4.6)
            .attr("fill", seasonColors[s])
            .attr("fill-opacity", 0.72)
    })

    // smooth lines
    p.fits.forEach(function(f, s) {
        g.append("path")
            .datum(f)
            .attr("d", line)
            .attr("fill", "none")
            .attr("stroke", seasonColors[s])
            .attr("stroke-width", 6)
            .attr("stroke-linecap", "butt")
    })

    // panel border
    g.append("rect")
        .attr("width", panelW).attr("height", panelH)
        .attr("fill", "none")
        .attr("stroke", "#8c8c8c")
        .attr("stroke-width", 1.5)

    // strip
    g.append("rect")
        .attr("y", stripTop - panelTop)
        .attr("width", panelW).attr("height", stripH)
        .attr("fill", "#cccccc")
        .attr("stroke", "#7f7f7f")
        .attr("stroke-width", 1.5)
    g.append("text")
        .attr("x", panelW / 2)
        .attr("y", 202 - panelTop)
        .attr("text-anchor", "middle")
        .attr("font-size", 31)
        .attr("fill", "#1a1a1a")
        .text(p.name)

    // x axis
    var xa = g.append("g")
        .attr("transform", "translate(0," + panelH + ")")
        .call(d3.axisBottom(x).tickValues(xTicks).tickFormat(d3.format(".1f")).tickSize(10).tickPadding(9))
    xa.select(".domain").remove()
    xa.selectAll(".tick line").attr("stroke", "#333").attr("stroke-width", 1.5)
    xa.selectAll(".tick text")
        .attr("font-size", 24)
        .attr("font-family", "Liberation Sans, Arial, sans-serif")
        .attr("fill", "#4d4d4d")

    if (i === 0) {
        var ya = g.append("g")
            .call(d3.axisLeft(y).tickValues(yTicks).tickFormat(d3.format(".1f")).tickSize(10).tickPadding(7))
        ya.select(".domain").remove()
        ya.selectAll(".tick line").attr("stroke", "#333").attr("stroke-width", 1.5)
        ya.selectAll(".tick text")
            .attr("font-size", 24)
            .attr("font-family", "Liberation Sans, Arial, sans-serif")
            .attr("fill", "#4d4d4d")
    }
})

var plotCenter = panelLeft + (3 * panelW + 2 * panelGap) / 2

// title
svg.append("text")
    .attr("x", plotCenter)
    .attr("y", 159)
    .attr("text-anchor", "middle")
    .attr("font-size", 31)
    .attr("fill", "#000")
    .text("Grasslands (all weather stations) - NDVI x ARID")

// axis titles
svg.append("text")
    .attr("x", plotCenter)
    .attr("y", 1133)
    .attr("text-anchor", "middle")
    .attr("font-size", 31)
    .attr("fill", "#000")
    .text("ARID")

svg.append("text")
    .attr("transform", "translate(97," + (panelTop + panelH / 2) + ") rotate(-90)")
    .attr("text-anchor", "middle")
    .attr("font-size", 31)
    .attr("fill", "#000")
    .text("NDVI average (radius - 25km)")

// legend
var legend = svg.append("g")
var lx = 891
seasons.forEach(function(s, i) {
    var item = legend.append("g").attr("transform", "translate(" + lx + ",1175)")
    item.append("rect")
        .attr("width", 38).attr("height", 40)
        .attr("fill", "#fff")
        .attr("stroke", "#d4d4d4")
        .attr("stroke-width", 1.5)
    item.append("line")
        .attr("x1", 4).attr("x2", 34)
        .attr("y1", 20).attr("y2", 20)
        .attr("stroke", seasonColors[i])
        .attr("stroke-width", 5)
    var t = item.append("text")
        .attr("x", 44)
        .attr("y", 32)
        .attr("font-size", 31)
        .attr("fill", "#000")
        .text(s)
    lx += 44 + t.node().getComputedTextLength() + 7
})
</script>
</body>
</html>
